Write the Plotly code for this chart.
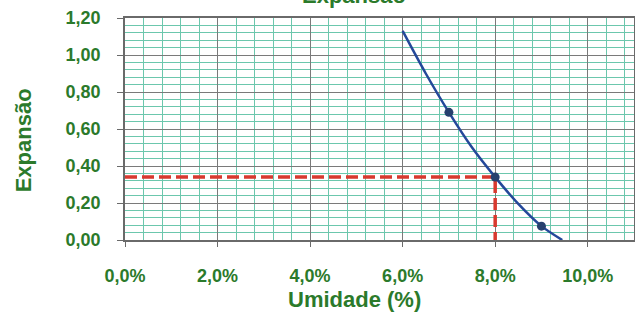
import plotly.graph_objects as go

# Data
umidade_curve = [0.060, 0.065, 0.070, 0.075, 0.080, 0.085, 0.090, 0.0945]
expansao_curve = [1.13, 0.90, 0.69, 0.50, 0.34, 0.195, 0.075, 0.0]
umidade_pts = [0.070, 0.080, 0.090]
expansao_pts = [0.69, 0.34, 0.075]
umidade_ref = 0.080
expansao_ref = 0.34

GREEN = "#2b7a2b"
FONT = "Liberation Sans Narrow, Liberation Sans, Arial"

fig = go.Figure()
fig.add_trace(go.Scatter(
    x=[0, umidade_ref, umidade_ref], y=[expansao_ref, expansao_ref, -0.02],
    mode="lines", line=dict(color="#d8392f", width=3.5, dash="12px,5px"),
    cliponaxis=False, hoverinfo="skip"))
fig.add_trace(go.Scatter(
    x=umidade_curve, y=expansao_curve, mode="lines",
    line=dict(color="#24489a", width=2.5, shape="spline", smoothing=0.8)))
fig.add_trace(go.Scatter(
    x=umidade_pts, y=expansao_pts, mode="markers",
    marker=dict(color="#27406e", size=9)))

# partially visible chart title at the top edge
fig.add_annotation(text="Expansão", xref="paper", yref="paper",
                   x=0.45, y=1.038, yanchor="bottom", showarrow=False,
                   font=dict(family=FONT, size=22, color=GREEN, weight="bold"))
# axis titles
fig.add_annotation(text="Umidade (%)", xref="paper", yref="paper",
                   x=0.45, y=-0.27, yanchor="middle", showarrow=False,
                   font=dict(family=FONT, size=22, color=GREEN, weight="bold"))
fig.add_annotation(text="Expansão", xref="paper", yref="paper",
                   x=-0.2, y=0.45, xanchor="center", yanchor="middle",
                   textangle=-90, showarrow=False,
                   font=dict(family=FONT, size=22, color=GREEN, weight="bold"))

fig.update_layout(
    width=635, height=314,
    margin=dict(l=125, r=1, t=18, b=74),
    paper_bgcolor="white", plot_bgcolor="white",
    showlegend=False,
    separators=",.",
    font=dict(family=FONT, color=GREEN),
)
fig.update_xaxes(
    range=[0, 0.11], dtick=0.02, tick0=0, tickformat=".1%",
    showgrid=True, gridcolor="#7a7a7a", gridwidth=1,
    minor=dict(dtick=0.004, showgrid=True, gridcolor="#6cc7ad", gridwidth=1,
               ticks=""),
    showline=True, linecolor="#6a6a6a", linewidth=1.5, mirror=True,
    ticks="outside", ticklen=5, tickcolor="#6a6a6a",
    ticklabelstandoff=14, automargin=False,
    tickfont=dict(family=FONT, size=18, color=GREEN, weight="bold"),
    zeroline=False,
)
fig.update_yaxes(
    range=[0, 1.2], dtick=0.2, tick0=0, tickformat=".2f",
    showgrid=True, gridcolor="#7a7a7a", gridwidth=1,
    minor=dict(dtick=0.04, showgrid=True, gridcolor="#6cc7ad", gridwidth=1,
               ticks=""),
    showline=True, linecolor="#6a6a6a", linewidth=1.5, mirror=True,
    ticks="outside", ticklen=6, tickcolor="#6a6a6a",
    ticklabelstandoff=13, automargin=False,
    tickfont=dict(family=FONT, size=18, color=GREEN, weight="bold"),
    zeroline=False,
)

fig.write_html("out.html",
               config={"displayModeBar": False},
               post_script="document.body.style.margin='0';"
                           "document.body.style.padding='0';")
